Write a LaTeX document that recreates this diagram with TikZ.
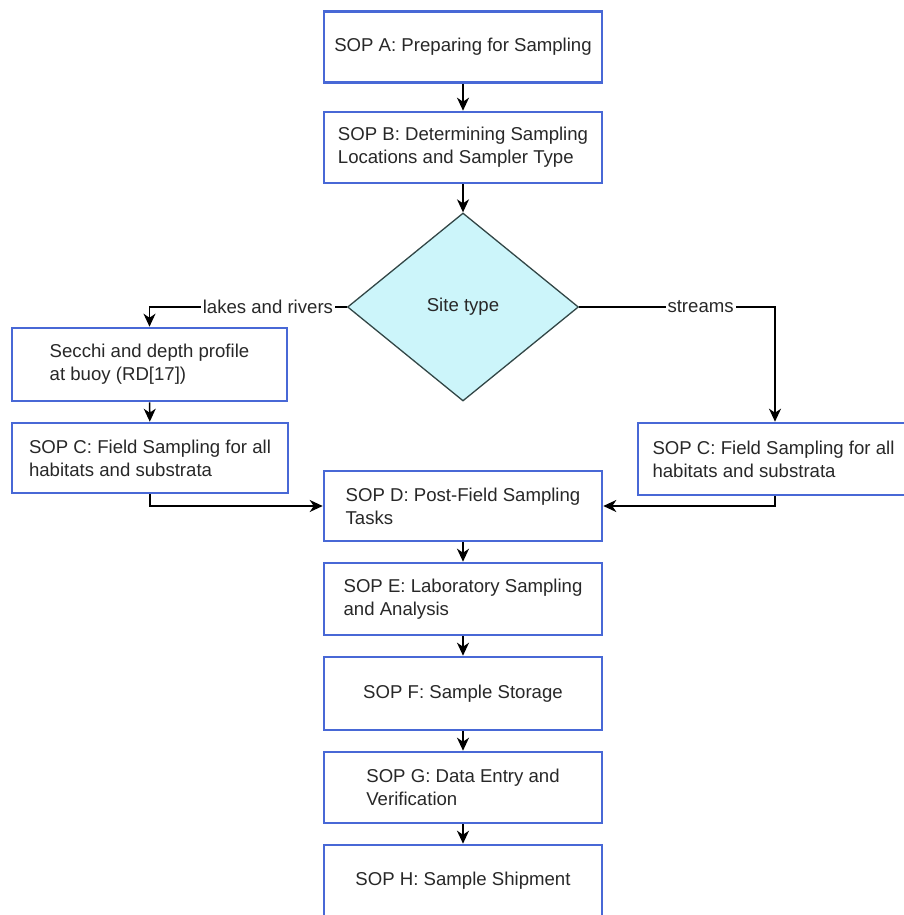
\documentclass[tikz,border=0pt]{standalone}
\usepackage{fontspec}
\setmainfont{Liberation Sans}
\usetikzlibrary{arrows.meta,shapes.geometric}
\definecolor{boxblue}{RGB}{72,104,214}
\definecolor{sitefill}{RGB}{204,245,250}
\definecolor{siteline}{RGB}{50,70,70}
\definecolor{txt}{RGB}{40,40,40}
\tikzset{
  sop/.style={draw=boxblue, line width=2.6pt, fill=white, align=left,
    minimum width=278pt, minimum height=71pt, inner sep=0pt, text=txt,
    font=\fontsize{18.6}{23}\selectfont},
  decision/.style={diamond, draw=siteline, line width=1.3pt, fill=sitefill,
    minimum width=231pt, minimum height=188pt, inner sep=0pt, text=txt,
    font=\fontsize{18.6}{23}\selectfont},
  flow/.style={draw=black, line width=1.5pt,
    -{Stealth[length=13pt,width=12pt,inset=4pt]}},
  branch/.style={fill=white, inner sep=2pt, text=txt,
    font=\fontsize{18.6}{23}\selectfont}
}
\begin{document}
\begin{tikzpicture}[x=1pt,y=-1pt]
\useasboundingbox[fill=white] (0,0) rectangle (904,915);

% main column
\node[sop] (A) at (463,47) {SOP A: Preparing for Sampling};
\node[sop] (B) at (463,147.5) {SOP B: Determining Sampling\\Locations and Sampler Type};
\node[decision] (site) at (463,307) {Site type};

% lakes and rivers branch
\node[sop, minimum width=275pt, minimum height=73pt] (secchi) at (149.5,364.5)
  {Secchi and depth profile\\at buoy (RD[17])};
\node[sop, minimum width=276pt, minimum height=70pt] (CL) at (150,458)
  {SOP C: Field Sampling for all\\habitats and substrata};

% streams branch
\node[sop, minimum width=271pt, minimum height=72pt] (CR) at (773.5,459)
  {SOP C: Field Sampling for all\\habitats and substrata};

% post-field steps
\node[sop, minimum height=70pt] (D) at (463,506) {SOP D: Post-Field Sampling\\Tasks};
\node[sop, minimum height=72pt] (E) at (463,599) {SOP E: Laboratory Sampling\\and Analysis};
\node[sop, minimum height=73pt] (F) at (463,693.5) {SOP F: Sample Storage};
\node[sop] (G) at (463,787.5) {SOP G: Data Entry and\\Verification};
\node[sop] (H) at (463,880.5) {SOP H: Sample Shipment};

% connectors
\draw[flow] (A) -- (B);
\draw[flow] (B) -- (site);
\draw[flow] (site.west) -| node[branch, pos=0.2] {lakes and rivers} (secchi.north);
\draw[flow] (site.east) -| node[branch, pos=0.31] {streams} ([xshift=1.5pt]CR.north);
\draw[flow] (secchi) -- (CL);
\draw[flow] (CL.south) |- (D.west);
\draw[flow] ([xshift=1.5pt]CR.south) |- (D.east);
\draw[flow] (D) -- (E);
\draw[flow] (E) -- (F);
\draw[flow] (F) -- (G);
\draw[flow] (G) -- (H);
\end{tikzpicture}
\end{document}
